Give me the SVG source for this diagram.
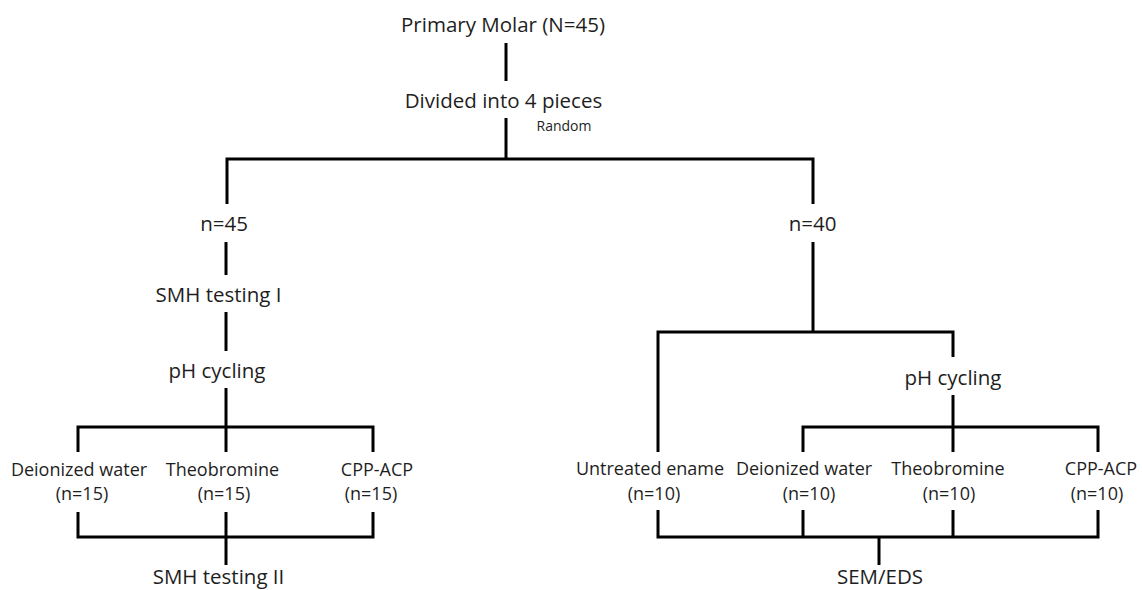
<svg xmlns="http://www.w3.org/2000/svg" width="1142" height="590" viewBox="0 0 1142 590">
<style>
.t{font-family:"Open Sans","Noto Sans","Liberation Sans",sans-serif;fill:#1e1e1e;text-anchor:middle}
.l{font-size:20.5px}
.s{font-size:18px}
.r{font-size:14px}
.c{stroke:#000;stroke-width:3;fill:none;stroke-linejoin:miter;stroke-linecap:butt}
</style>
<rect width="1142" height="590" fill="#fff"/>
<g id="connectors" class="c">
<line x1="506" y1="43" x2="506" y2="81"/>
<line x1="506" y1="118" x2="506" y2="159"/>
<polyline points="227,204 227,159 813,159 813,204"/>
<line x1="226" y1="242" x2="226" y2="275"/>
<line x1="226" y1="312" x2="226" y2="351"/>
<line x1="226" y1="388" x2="226" y2="452"/>
<polyline points="78,452 78,427 373,427 373,452"/>
<polyline points="78,512 78,537 373,537 373,512"/>
<line x1="226" y1="512" x2="226" y2="565"/>
<line x1="813" y1="242" x2="813" y2="332"/>
<polyline points="658,452 658,332 953,332 953,357"/>
<line x1="953" y1="395" x2="953" y2="452"/>
<polyline points="803,452 803,427 1098,427 1098,452"/>
<polyline points="658,510 658,537 1098,537 1098,510"/>
<line x1="803" y1="510" x2="803" y2="537"/>
<line x1="953" y1="510" x2="953" y2="537"/>
<line x1="879" y1="537" x2="879" y2="565"/>
</g>
<g id="n-primary"><text class="t l" x="503" y="32">Primary Molar (N=45)</text></g>
<g id="n-divided"><text class="t l" x="503.5" y="108">Divided into 4 pieces</text></g>
<g id="n-random"><text class="t r" x="564" y="131">Random</text></g>
<g id="n-45"><text class="t l" x="224" y="231">n=45</text></g>
<g id="n-40"><text class="t l" x="812.5" y="231">n=40</text></g>
<g id="n-smh1"><text class="t l" x="218.5" y="302">SMH testing I</text></g>
<g id="n-ph-left"><text class="t l" x="217" y="378">pH cycling</text></g>
<g id="n-ph-right"><text class="t l" x="953" y="385">pH cycling</text></g>
<g id="n-dw-left"><text class="t s" x="79" y="476">Deionized water</text><text class="t s" x="82" y="500">(n=15)</text></g>
<g id="n-tb-left"><text class="t s" x="222.5" y="476">Theobromine</text><text class="t s" x="224" y="500">(n=15)</text></g>
<g id="n-cpp-left"><text class="t s" x="377" y="476">CPP-ACP</text><text class="t s" x="371" y="500">(n=15)</text></g>
<g id="n-smh2"><text class="t l" x="218.5" y="584">SMH testing II</text></g>
<g id="n-untreated"><text class="t s" x="650" y="475">Untreated ename</text><text class="t s" x="654" y="500">(n=10)</text></g>
<g id="n-dw-right"><text class="t s" x="804" y="475">Deionized water</text><text class="t s" x="809" y="500">(n=10)</text></g>
<g id="n-tb-right"><text class="t s" x="948" y="475">Theobromine</text><text class="t s" x="949" y="500">(n=10)</text></g>
<g id="n-cpp-right"><text class="t s" x="1101" y="475">CPP-ACP</text><text class="t s" x="1097" y="500">(n=10)</text></g>
<g id="n-sem"><text class="t l" x="880" y="584">SEM/EDS</text></g>
</svg>
